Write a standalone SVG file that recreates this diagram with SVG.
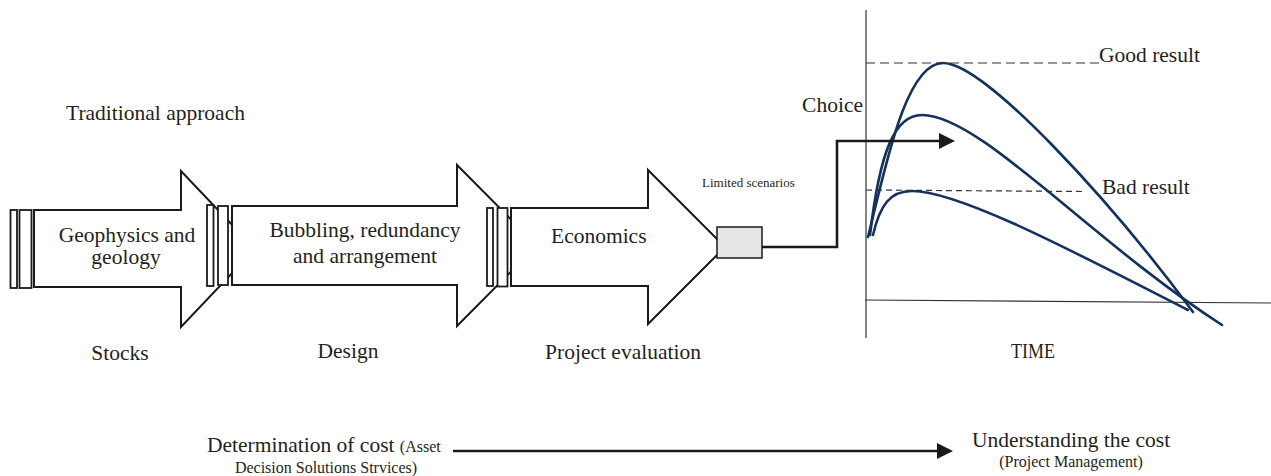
<svg xmlns="http://www.w3.org/2000/svg" width="1271" height="476" viewBox="0 0 1271 476">
<defs>
<style>
text{font-family:"Liberation Serif","Times New Roman",serif;fill:#231f20}
.t{font-size:21.5px}
.s{font-size:16px}
.xs{font-size:13px}
.arr{fill:#fff;stroke:#1a1a1a;stroke-width:2}
.bar{fill:#fff;stroke:#1a1a1a;stroke-width:1.8}
.conn{fill:none;stroke:#1a1a1a;stroke-width:2.6}
.axis{fill:none;stroke:#333;stroke-width:1.2}
.curve{fill:none;stroke:#14325a;stroke-width:2.6;stroke-linecap:round}
.dash{fill:none;stroke:#333;stroke-width:1.2}
</style>
<marker id="ah2" viewBox="0 0 16 16" refX="0" refY="8" markerWidth="16" markerHeight="16" orient="auto" markerUnits="userSpaceOnUse">
<path d="M0,0 L16,8 L0,16 Z" fill="#1a1a1a"/>
</marker>
</defs>

<text class="t" x="66" y="120">Traditional approach</text>

<g id="stocks">
<polygon class="arr" points="34,210 181,210 181,171 255,249 181,327 181,287 34,287"/>
<rect class="bar" x="10.5" y="210" width="6.5" height="78"/>
<rect class="bar" x="19.5" y="210" width="12" height="78"/>
<text class="t" x="127" y="242" text-anchor="middle">Geophysics and</text>
<text class="t" x="126" y="264" text-anchor="middle">geology</text>
<text class="t" x="120" y="360" text-anchor="middle">Stocks</text>
</g>

<g id="design">
<polygon class="arr" points="232,206 457,206 457,165 537,245.5 457,326 457,285 232,285"/>
<rect class="bar" x="207" y="205" width="6.5" height="81"/>
<rect class="bar" x="218" y="206" width="10" height="79"/>
<text class="t" x="365" y="237" text-anchor="middle">Bubbling, redundancy</text>
<text class="t" x="365" y="263" text-anchor="middle">and arrangement</text>
<text class="t" x="348" y="358" text-anchor="middle">Design</text>
</g>

<g id="evaluation">
<polygon class="arr" points="511,208 648,208 648,170 725,247 648,324 648,286 511,286"/>
<rect class="bar" x="487" y="208" width="6" height="78"/>
<rect class="bar" x="497.5" y="208" width="10" height="78.5"/>
<text class="t" x="551" y="243">Economics</text>
<text class="t" x="623" y="359" text-anchor="middle">Project evaluation</text>
</g>

<g id="scenarios">
<rect x="717" y="227" width="45" height="31" fill="#e6e6e6" stroke="#1a1a1a" stroke-width="1.5"/>
<text class="xs" x="702" y="187">Limited scenarios</text>
</g>

<g id="chart">
<line class="axis" x1="866" y1="10" x2="866" y2="338"/>
<line class="axis" x1="865" y1="300" x2="1271" y2="303"/>
<line class="dash" x1="866" y1="63" x2="1101" y2="63" stroke-dasharray="9 5"/>
<line class="dash" x1="866" y1="190" x2="1082" y2="191.5" stroke-dasharray="6 4"/>
<path class="curve" d="M868 237 C885 170 905 63 943 63 C985 63 1110 200 1193 312"/>
<path class="curve" d="M870 235 C880 150 895 115 922 115 C980 115 1090 240 1222 325"/>
<path class="curve" d="M873 235 C880 205 890 191 912 191 C960 191 1080 255 1188 310"/>
<text class="t" x="1099" y="62">Good result</text>
<text class="t" x="1102" y="194">Bad result</text>
<text class="t" x="863" y="112" text-anchor="end">Choice</text>
<text class="t" x="1033" y="358" text-anchor="middle" textLength="44" lengthAdjust="spacingAndGlyphs">TIME</text>
</g>

<g id="connectors">
<polyline class="conn" points="762,247 837,247 837,141 939,141" marker-end="url(#ah2)"/>
<line class="conn" x1="453" y1="451" x2="937" y2="451" marker-end="url(#ah2)"/>
</g>

<g id="bottom-left">
<text class="t" x="207" y="452">Determination of cost <tspan class="s">(Asset</tspan></text>
<text class="s" x="326" y="473" text-anchor="middle">Decision Solutions Strvices)</text>
</g>

<g id="bottom-right">
<text class="t" x="1071" y="447" text-anchor="middle">Understanding the cost</text>
<text class="s" x="1071" y="467" text-anchor="middle">(Project Management)</text>
</g>
</svg>
